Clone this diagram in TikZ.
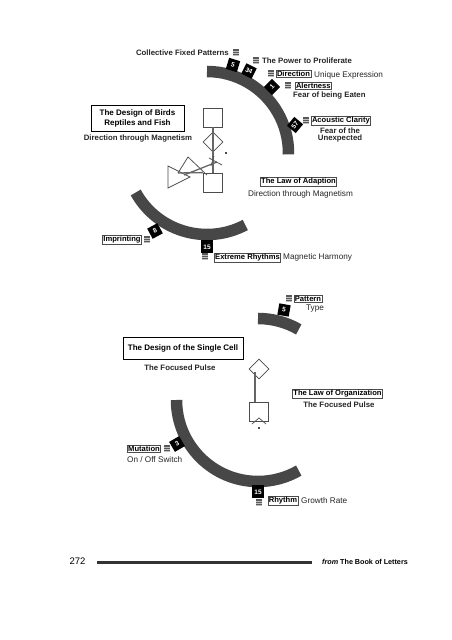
\documentclass[tikz,border=0pt]{standalone}
\usepackage{fontspec}
\setmainfont{Liberation Sans}
\usetikzlibrary{arrows,positioning}
\tikzstyle{band} = [line width=11.5pt, black!72]
\tikzstyle{gatebox} = [draw, black!70, thick, minimum width=19pt, minimum height=19pt, inner sep=0pt]
\tikzstyle{gatediamond} = [gatebox, rotate=45, minimum width=14pt, minimum height=14pt]
\tikzstyle{channel} = [line width=1.3pt, black!60]
\tikzstyle{thinline} = [black!65, thick]
\tikzstyle{titlebox} = [draw, line width=0.9pt, align=center, font=\fontsize{8}{10}\selectfont\bfseries]
\tikzstyle{namebox} = [draw, black!70, inner sep=0.8pt, font=\fontsize{7.6}{9}\selectfont\bfseries, text=black]
\tikzstyle{label} = [inner sep=0pt, align=center, font=\fontsize{7.8}{7.8}\selectfont\bfseries, text=black!85]
\tikzstyle{plain} = [inner sep=0pt, align=center, font=\fontsize{8.2}{9}\selectfont, text=black!85]
\tikzstyle{badge} = [fill=black, text=white, minimum size=11.5pt, inner sep=0pt, font=\fontsize{6.5}{7}\selectfont\bfseries]
\tikzstyle{hexmark} = [fill=black!65, minimum width=6pt, minimum height=7pt, inner sep=0pt,
    path picture={\foreach \k in {-2,0,2}{\draw[black!25,line width=0.4pt] ([yshift=\k pt]path picture bounding box.west) -- ([yshift=\k pt]path picture bounding box.east);}}]
\tikzstyle{gatedot} = [fill=black!70, minimum size=2.5pt, inner sep=0pt]
\begin{document}
\begin{tikzpicture}[x=1pt,y=1pt]
    \useasboundingbox (0,0) rectangle (452,640);
    \fill[white] (0,0) rectangle (452,640);

    % upper design
    \coordinate (upper) at (207,487);
    \draw[band] (upper) ++(90:81.5) arc[start angle=90,end angle=-1,radius=81.5];
    \draw[band] (upper) ++(209:81.5) arc[start angle=209,end angle=298,radius=81.5];
    \node[badge,rotate=-17] (gate5) at (233,575) {5};
    \node[badge,rotate=-27] (gate34) at (249,569) {34};
    \node[badge,rotate=45] (gate1) at (272,553) {1};
    \node[badge,rotate=50] (gate57) at (295,515) {57};
    \node[badge,rotate=28] (gate8) at (155,409) {8};
    \node[badge,minimum height=13pt] (gate15) at (207,393) {15};

    \node[label,anchor=east] (fixed) at (229,587) {Collective Fixed Patterns};
    \node[hexmark] (hexfixed) at (236,587) {};
    \node[hexmark] (hexpower) at (256,579) {};
    \node[label,anchor=west] (power) at (262,579) {The Power to Proliferate};
    \node[hexmark] (hexdir) at (271,566) {};
    \node[namebox,anchor=west] (direction) at (276,566) {Direction};
    \node[plain,anchor=west] (unique) at (314,565) {Unique Expression};
    \node[hexmark] (hexalert) at (288,554) {};
    \node[namebox,anchor=west] (alertness) at (295,554) {Alertness};
    \node[label,anchor=west] (eaten) at (293,544) {Fear of being Eaten};
    \node[hexmark] (hexacoustic) at (306,519) {};
    \node[namebox,anchor=west] (acoustic) at (311,519) {Acoustic Clarity};
    \node[label] (unexpected) at (340,505) {Fear of the\\Unexpected};

    \node[titlebox,minimum width=93pt,minimum height=26pt] (birds) at (137.5,522) {The Design of Birds\\Reptiles and Fish};
    \node[label] (magnet) at (138,501) {Direction through Magnetism};

    \node[gatebox] (sqtop) at (213,522.5) {};
    \node[gatediamond] (diatop) at (213,498) {};
    \node[gatebox] (sqlow) at (213,457.5) {};
    \coordinate (armA) at (184,465);
    \coordinate (armB) at (217,478);
    \coordinate (armC) at (178,467);
    \coordinate (peak) at (188,483);
    \coordinate (armD) at (207,465);
    \draw[draw=black!70,thick] (168,474) -- (168,452) -- (190,463) -- cycle;
    \draw[channel] (sqtop.south) -- (diatop.center) -- (sqlow.north);
    \draw[channel] (armA) -- (armB);
    \draw[channel] (armC) -- (sqlow.north west);
    \draw[thinline] (armC) -- (peak) -- (armD);
    \draw[thinline] (209,482) -- (222,475);
    \draw[thinline] (214,484) -- (211,474);
    \node[gatedot] (dotup) at (226,487) {};

    \node[namebox] (adaption) at (298.5,458) {The Law of Adaption};
    \node[plain] (adaptnote) at (300.5,446) {Direction through Magnetism};
    \node[namebox] (imprinting) at (122,400) {Imprinting};
    \node[hexmark] (heximprint) at (147,400) {};
    \node[hexmark] (hexextreme) at (205,383) {};
    \node[namebox] (extreme) at (247.5,382) {Extreme Rhythms};
    \node[plain,anchor=west] (harmony) at (283,383) {Magnetic Harmony};

    % lower design
    \coordinate (lower) at (258,240);
    \draw[band] (lower) ++(90:81.5) arc[start angle=90,end angle=60,radius=81.5];
    \draw[band] (lower) ++(180:81.5) arc[start angle=180,end angle=300,radius=81.5];
    \node[badge,rotate=-10] (gateS) at (284,330) {5};
    \node[badge,rotate=30] (gate3) at (177,196) {3};
    \node[badge,minimum height=13pt] (gateR) at (258,148) {15};

    \node[hexmark] (hexpattern) at (289,341) {};
    \node[namebox] (pattern) at (308,341) {Pattern};
    \node[plain] (type) at (315,331) {Type};
    \node[titlebox,minimum width=120pt,minimum height=22pt] (cell) at (183,292) {The Design of the Single Cell};
    \node[label] (pulse) at (180,272) {The Focused Pulse};
    \node[gatediamond] (diacell) at (259,271) {};
    \node[gatebox] (sqcell) at (258.5,228.5) {};
    \coordinate (cellA) at (255,268);
    \coordinate (cellB) at (255,238);
    \draw[channel] (cellA) -- (cellB);
    \draw[thinline] (252,216) -- (259,222) -- (266,216);
    \node[gatedot] (dotcell) at (259,212) {};
    \node[namebox] (organ) at (337.5,246) {The Law of Organization};
    \node[label] (pulsetwo) at (339,235) {The Focused Pulse};
    \node[namebox] (mutation) at (144,191) {Mutation};
    \node[hexmark] (hexmut) at (167,191) {};
    \node[plain,anchor=west] (onoff) at (127,180) {On / Off Switch};
    \node[hexmark] (hexrhythm) at (259,137) {};
    \node[namebox] (rhythm) at (283,139) {Rhythm};
    \node[plain,anchor=west] (growth) at (301,139) {Growth Rate};

    % page footer
    \node[inner sep=0pt,font=\fontsize{9.5}{11}\selectfont] (page) at (77.5,79) {272};
    \node[inner sep=0pt,anchor=west,font=\fontsize{7.2}{9}\selectfont\bfseries] (source) at (322,78) {\textit{from} The Book of Letters};
    \coordinate (ruleA) at (97,77.5);
    \coordinate (ruleB) at (312,77.5);
    \draw[line width=3pt,black!80] (ruleA) -- (ruleB);
\end{tikzpicture}
\end{document}
